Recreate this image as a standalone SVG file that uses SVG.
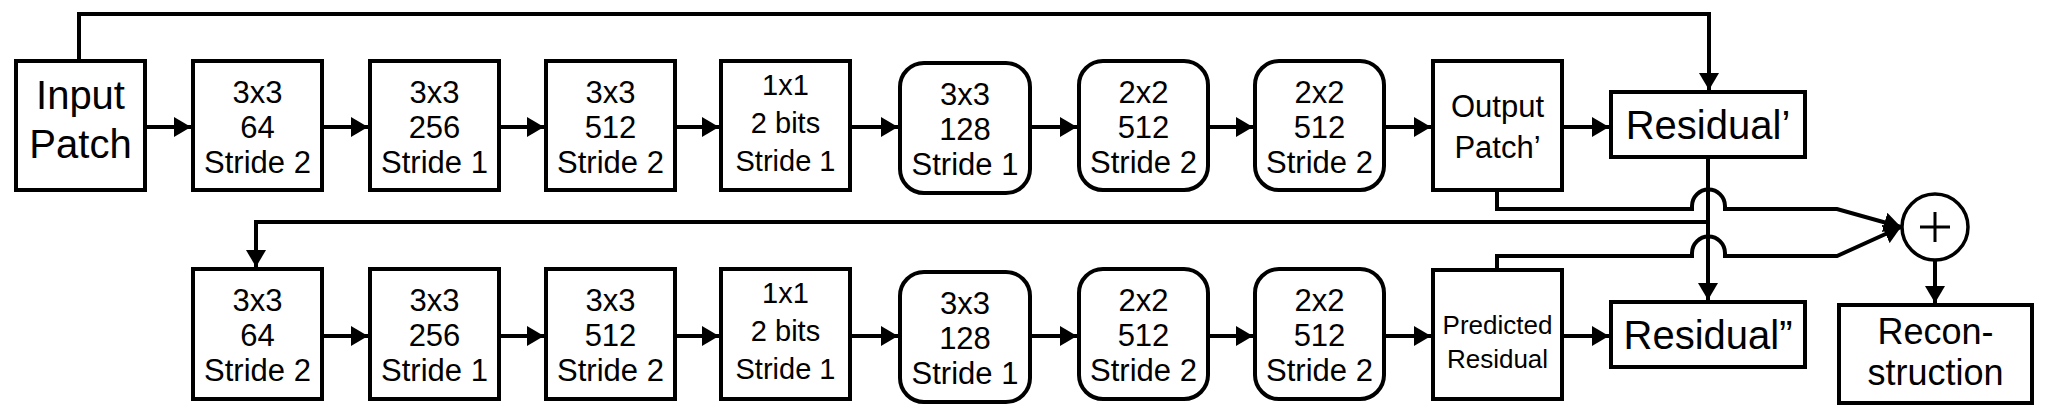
<svg xmlns="http://www.w3.org/2000/svg" width="2048" height="419" viewBox="0 0 2048 419">
<style>
.b{fill:#fff;stroke:#000;stroke-width:4}
.c{fill:none;stroke:#000;stroke-width:4}
text{font-family:"Liberation Sans",Arial,sans-serif;fill:#000;text-anchor:middle}
.t{font-size:31px}
.s{font-size:29px}
.l{font-size:40px}
.k{font-size:36px}
.r{font-size:40px}
.p{font-size:26px}
</style>
<defs>
<marker id="a" markerUnits="userSpaceOnUse" markerWidth="17" markerHeight="20" refX="17" refY="10" orient="auto"><path d="M0,0 L17,10 L0,20 z" fill="#000"/></marker>
</defs>
<g id="connectors">
<path class="c" d="M79,61 V14 H1709 V90" marker-end="url(#a)"/>
<path class="c" d="M145,127 H191" marker-end="url(#a)"/>
<path class="c" d="M322,127 H368" marker-end="url(#a)"/>
<path class="c" d="M499,127 H544" marker-end="url(#a)"/>
<path class="c" d="M675,127 H719" marker-end="url(#a)"/>
<path class="c" d="M850,127 H898" marker-end="url(#a)"/>
<path class="c" d="M1030,127 H1077" marker-end="url(#a)"/>
<path class="c" d="M1208,127 H1253" marker-end="url(#a)"/>
<path class="c" d="M1384,127 H1431" marker-end="url(#a)"/>
<path class="c" d="M1562,127 H1609" marker-end="url(#a)"/>
<path class="c" d="M322,336 H368" marker-end="url(#a)"/>
<path class="c" d="M499,336 H544" marker-end="url(#a)"/>
<path class="c" d="M675,336 H719" marker-end="url(#a)"/>
<path class="c" d="M850,336 H898" marker-end="url(#a)"/>
<path class="c" d="M1030,336 H1077" marker-end="url(#a)"/>
<path class="c" d="M1208,336 H1253" marker-end="url(#a)"/>
<path class="c" d="M1384,336 H1431" marker-end="url(#a)"/>
<path class="c" d="M1562,336 H1609" marker-end="url(#a)"/>
<path class="c" d="M1708,157 V300" marker-end="url(#a)"/>
<path class="c" d="M1708,222 H256 V267" marker-end="url(#a)"/>
<path class="c" d="M1497,190 V209 H1692 V206 A16.5,16.5 0 0 1 1725,206 V209 H1837 L1901,227" marker-end="url(#a)"/>
<path class="c" d="M1497,270 V256 H1692 V253 A16.5,16.5 0 0 1 1725,253 V256 H1837 L1901,227" marker-end="url(#a)"/>
<path class="c" d="M1935,260 V303" marker-end="url(#a)"/>
</g>
<g id="input"><rect class="b" x="16" y="61" width="129" height="129"/><text class="l" x="80.5" y="109">Input<tspan x="80.5" dy="49">Patch</tspan></text></g>
<g id="e1"><rect class="b" x="193" y="61" width="129" height="129"/><text class="t" x="257.5" y="103">3x3<tspan x="257.5" dy="35">64</tspan><tspan x="257.5" dy="35">Stride 2</tspan></text></g>
<g id="e2"><rect class="b" x="370" y="61" width="129" height="129"/><text class="t" x="434.5" y="103">3x3<tspan x="434.5" dy="35">256</tspan><tspan x="434.5" dy="35">Stride 1</tspan></text></g>
<g id="e3"><rect class="b" x="546" y="61" width="129" height="129"/><text class="t" x="610.5" y="103">3x3<tspan x="610.5" dy="35">512</tspan><tspan x="610.5" dy="35">Stride 2</tspan></text></g>
<g id="e4"><rect class="b" x="721" y="61" width="129" height="129"/><text class="s" x="785.5" y="95">1x1<tspan x="785.5" dy="38">2 bits</tspan><tspan x="785.5" dy="38">Stride 1</tspan></text></g>
<g id="e5"><rect class="b" x="900" y="63" width="130" height="130" rx="24"/><text class="t" x="965" y="105">3x3<tspan x="965" dy="35">128</tspan><tspan x="965" dy="35">Stride 1</tspan></text></g>
<g id="e6"><rect class="b" x="1079" y="61" width="129" height="129" rx="24"/><text class="t" x="1143.5" y="103">2x2<tspan x="1143.5" dy="35">512</tspan><tspan x="1143.5" dy="35">Stride 2</tspan></text></g>
<g id="e7"><rect class="b" x="1255" y="61" width="129" height="129" rx="24"/><text class="t" x="1319.5" y="103">2x2<tspan x="1319.5" dy="35">512</tspan><tspan x="1319.5" dy="35">Stride 2</tspan></text></g>
<g id="outpatch"><rect class="b" x="1433" y="61" width="129" height="129"/><text class="t" x="1497.5" y="117">Output<tspan x="1497.5" dy="41">Patch’</tspan></text></g>
<g id="res1"><rect class="b" x="1611" y="92" width="194" height="65"/><text class="r" x="1708" y="139">Residual’</text></g>
<g id="d1"><rect class="b" x="193" y="269" width="129" height="130"/><text class="t" x="257.5" y="311">3x3<tspan x="257.5" dy="35">64</tspan><tspan x="257.5" dy="35">Stride 2</tspan></text></g>
<g id="d2"><rect class="b" x="370" y="269" width="129" height="130"/><text class="t" x="434.5" y="311">3x3<tspan x="434.5" dy="35">256</tspan><tspan x="434.5" dy="35">Stride 1</tspan></text></g>
<g id="d3"><rect class="b" x="546" y="269" width="129" height="130"/><text class="t" x="610.5" y="311">3x3<tspan x="610.5" dy="35">512</tspan><tspan x="610.5" dy="35">Stride 2</tspan></text></g>
<g id="d4"><rect class="b" x="721" y="269" width="129" height="130"/><text class="s" x="785.5" y="303">1x1<tspan x="785.5" dy="38">2 bits</tspan><tspan x="785.5" dy="38">Stride 1</tspan></text></g>
<g id="d5"><rect class="b" x="900" y="272" width="130" height="130" rx="24"/><text class="t" x="965" y="314">3x3<tspan x="965" dy="35">128</tspan><tspan x="965" dy="35">Stride 1</tspan></text></g>
<g id="d6"><rect class="b" x="1079" y="269" width="129" height="130" rx="24"/><text class="t" x="1143.5" y="311">2x2<tspan x="1143.5" dy="35">512</tspan><tspan x="1143.5" dy="35">Stride 2</tspan></text></g>
<g id="d7"><rect class="b" x="1255" y="269" width="129" height="130" rx="24"/><text class="t" x="1319.5" y="311">2x2<tspan x="1319.5" dy="35">512</tspan><tspan x="1319.5" dy="35">Stride 2</tspan></text></g>
<g id="predres"><rect class="b" x="1433" y="270" width="129" height="129"/><text class="p" x="1497.5" y="334">Predicted<tspan x="1497.5" dy="34">Residual</tspan></text></g>
<g id="res2"><rect class="b" x="1611" y="302" width="194" height="65"/><text class="r" x="1708" y="349">Residual”</text></g>
<g id="plus"><circle cx="1935" cy="227" r="33" fill="#fff" stroke="#000" stroke-width="3.5"/><path d="M1920,227 H1950 M1935,212 V242" stroke="#000" stroke-width="3"/></g>
<g id="recon"><rect class="b" x="1839" y="305" width="193" height="98"/><text class="k" x="1935.5" y="344">Recon-<tspan x="1935.5" dy="41">struction</tspan></text></g>
</svg>
